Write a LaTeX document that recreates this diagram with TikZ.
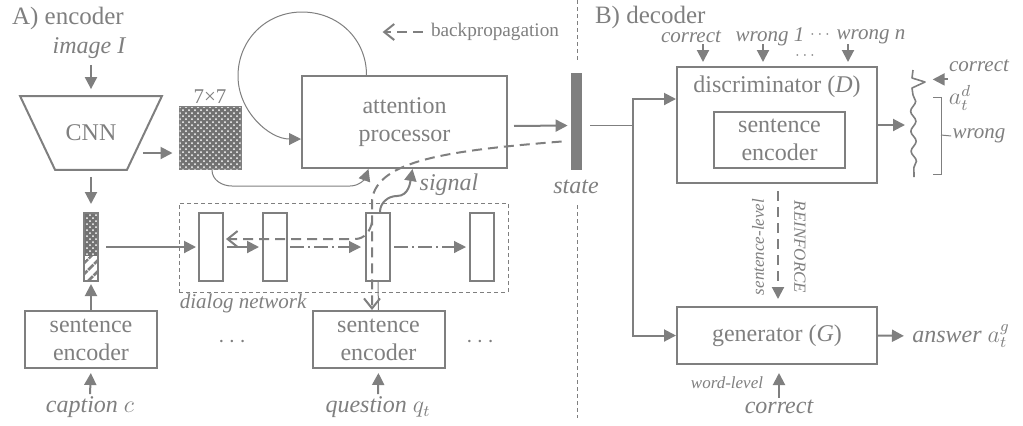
\documentclass[tikz,border=0pt]{standalone}
\usepackage{fontspec}
\setmainfont{Liberation Serif}
\usetikzlibrary{positioning,shapes.geometric,arrows.meta,patterns,patterns.meta,decorations.pathmorphing}
\definecolor{ink}{RGB}{127,127,127}

\begin{document}
\begin{tikzpicture}[x=0.5pt,y=-0.5pt,color=ink,
		box/.style={draw,line width=1pt,align=center,font=\fontsize{12}{14}\selectfont},
		cell/.style={draw,line width=1pt,minimum width=12pt,minimum height=34pt,inner sep=0pt},
		lab/.style={font=\fontsize{12}{14}\selectfont\itshape,inner sep=1pt},
		sml/.style={font=\fontsize{10.5}{12}\selectfont\itshape,inner sep=0.5pt},
		smalllab/.style={font=\fontsize{8.5}{10}\selectfont\itshape,inner sep=1pt},
		arr/.style={line width=1pt,-{Triangle[length=6pt,width=6pt]}},
		thinarr/.style={line width=0.5pt,-{Triangle[length=6pt,width=6pt]}},
		ddarr/.style={line width=0.6pt,dash pattern=on 7pt off 2pt on 1pt off 2pt,-{Triangle[length=6pt,width=6pt]}},
		bp/.style={line width=1pt,dash pattern=on 5pt off 3pt,-{Straight Barb[length=5pt,width=8pt]}},
		dotfill/.style={fill=ink!90!black,postaction={pattern=crosshatch dots,pattern color=white}}]
		\useasboundingbox (0,0) rectangle (1023,425);
		\node at (5,18) [anchor=west,font=\fontsize{12.5}{14}\selectfont] (ttlA) {A) encoder};
		\node at (89,48) [lab] (img) {image I};
		\node at (91,133) [minimum width=70.5pt,minimum height=36.5pt,font=\fontsize{12}{14}\selectfont] (cnn) {CNN};
		\draw[line width=1pt] (cnn.north west) -- (cnn.north east) -- ([xshift=-17.5pt]cnn.south east) -- ([xshift=17.5pt]cnn.south west) -- cycle;
		\node at (210,138) [draw,line width=1pt,dotfill,minimum width=30.5pt,minimum height=31pt,inner sep=0pt] (fmap) {};
		\node [above=0pt of fmap,font=\fontsize{10.5}{12}\selectfont,inner sep=1pt] (fsize) {7×7};
		\node at (404.5,122) [box,minimum width=102.5pt,minimum height=46pt] (att) {attention\\processor};
		\node at (576.5,121.5) [fill,minimum width=5.5pt,minimum height=48.5pt,inner sep=0pt] (state) {};
		\node at (576,187) [lab] (statelab) {state};
		\node at (495,32) [font=\fontsize{9.6}{11}\selectfont,inner sep=1pt] (bplab) {backpropagation};
		\node at (343.5,247.5) [draw,line width=0.5pt,dash pattern=on 2pt off 1.5pt,minimum width=164.5pt,minimum height=44.5pt] (dlg) {};
		\node [anchor=north west,sml] at (dlg.south west) (dlglab) {dialog network};
		\node at (91,247) [draw,line width=1pt,minimum width=7pt,minimum height=34pt,inner sep=0pt,
			path picture={
				\fill[ink!90!black,postaction={pattern=crosshatch dots,pattern color=white}] (path picture bounding box.north west) rectangle ([yshift=-4.5pt]path picture bounding box.east);
				\fill[pattern={Lines[angle=45,distance=4pt,line width=1.5pt]},pattern color=ink] ([yshift=-4.5pt]path picture bounding box.west) rectangle (path picture bounding box.south east);
			}] (cvec) {};
		\node at (211,247) [cell] (r1) {};
		\node at (275,247) [cell] (r2) {};
		\node at (378,247) [cell] (r3) {};
		\node at (482,247) [cell] (r4) {};
		\node at (91,339.5) [box,minimum width=66pt,minimum height=28.5pt] (senc1) {sentence\\encoder};
		\node at (378.5,339.5) [box,minimum width=66pt,minimum height=28.5pt] (senc2) {sentence\\encoder};
		\node at (232,342) [font=\fontsize{12}{14}\selectfont] (dots1) {$\cdots$};
		\node at (480,342) [font=\fontsize{12}{14}\selectfont] (dots2) {$\cdots$};
		\node at (90,407) [lab] (cap) {caption $c$};
		\node at (378,407) [lab] (qst) {question $q_t$};
		\node at (449,185) [lab] (sig) {signal};
		\draw[arr,shorten <=2pt,shorten >=3.5pt] (cnn.north |- img.south) -- (cnn.north);
		\draw[arr,shorten <=3.5pt,shorten >=4pt] (cnn.south) -- (cvec.north);
		\draw[arr,shorten >=3pt] ([xshift=-9.5pt,yshift=-10pt]cnn.east) -- ([yshift=-7.5pt]fmap.west);
		\draw[thinarr] ([xshift=1pt]fmap.south) to[out=-90,in=180] ++(20,16) -- ++(118,0) to[out=0,in=-110] ([xshift=-18pt]att.south);
		\coordinate (looptop) at (302,12);
		\coordinate (loopleft) at (238,76);
		\draw[thinarr] ([xshift=-19pt]att.north) .. controls +(0,-36) and +(36,0) .. (looptop) .. controls +(-36,0) and +(0,-36) .. (loopleft) .. controls +(0,35) and +(-32,0) .. ([yshift=-8.5pt]att.west);
		\draw[arr,shorten <=3pt,shorten >=1.5pt] ([yshift=-2pt]att.east) -- ([yshift=-2pt]state.west);
		\draw[bp] ([xshift=-3pt]bplab.west) -- ([xshift=-23pt]bplab.west);
		\draw[arr,shorten <=3.5pt,shorten >=1pt] (cvec.east) -- (r1.west);
		\draw[arr,shorten <=1.5pt,shorten >=1.5pt] (r1.east) -- (r2.west);
		\draw[ddarr,shorten <=1pt,shorten >=2pt] (r2.east) -- (r3.west);
		\draw[ddarr,shorten <=1.5pt,shorten >=1.5pt] (r3.east) -- (r4.west);
		\draw[line width=0.5pt] (senc2.north) -- (r3.south);
		\draw[arr,shorten >=1pt] (senc1.north) -- (cvec.south);
		\draw[arr,shorten >=2pt] (cap.north) -- (senc1.south);
		\draw[arr,shorten >=2pt] (qst.north) -- (senc2.south);
		\draw[arr] ([xshift=1pt]r3.north) to[out=90,in=180] ++(17,-16) to[out=0,in=-100] ([xshift=4pt]att.south);
		\coordinate (bpv) at (372,200);
		\draw[bp] ([xshift=-4.5pt,yshift=-10pt]state.west) .. controls +(-112,9) and +(5,-40) .. (bpv) -- ([xshift=-3.25pt]senc2.north);
		\draw[bp] ([yshift=-11pt]bpv) to[out=-100,in=0] ++(-17,17) -- ([xshift=1pt,yshift=4pt]r1.east);
		\draw[line width=0.5pt,dash pattern=on 2pt off 1.5pt] (577,0) -- (577,63);
		\draw[line width=0.5pt,dash pattern=on 2pt off 1.5pt] (577,205) -- (577,418);
		\node at (588,17) [anchor=west,font=\fontsize{12.5}{14}\selectfont] (ttlB) {B) decoder};
		\node at (777,125) [draw,line width=1pt,minimum width=100pt,minimum height=58pt] (disc) {};
		\node at (777,87) [font=\fontsize{12}{14}\selectfont] (disclab) {discriminator (\textit{D})};
		\node at (779.5,140) [box,minimum width=65.5pt,minimum height=28pt] (dsenc) {sentence\\encoder};
		\node at (777,335.5) [box,minimum width=100pt,minimum height=28.5pt] (gen) {generator (\textit{G})};
		\coordinate (jn) at (633,125);
		\draw[line width=0.5pt,shorten <=4pt] (state.east |- jn) -- (jn);
		\draw[arr] (jn) |- ([yshift=13pt]disc.west);
		\draw[arr] (jn) |- (gen.west);
		\node at (691,37) [sml] (c0) {correct};
		\node at (770,37) [sml] (w1) {wrong 1};
		\node at (820,35) [font=\fontsize{8}{9}\selectfont,inner sep=0pt] (wd) {$\cdots$};
		\node at (871,37) [sml] (wn) {wrong n};
		\node at (805,56) [font=\fontsize{8}{9}\selectfont,inner sep=0pt] (wd2) {$\cdots$};
		\draw[arr] ([xshift=-37pt,yshift=11pt]disc.north) -- ([xshift=-37pt,yshift=2pt]disc.north);
		\draw[arr] ([xshift=-7pt,yshift=11pt]disc.north) -- ([xshift=-7pt,yshift=2pt]disc.north);
		\draw[arr] ([xshift=35.5pt,yshift=11pt]disc.north) -- ([xshift=35.5pt,yshift=2pt]disc.north);
		\coordinate (wv) at (913,125);
		\draw[arr] (disc.east) -- ([xshift=-4pt]wv);
		\draw[line width=0.8pt,line join=round] (913,70) -- (912,78) -- (925,82) -- (912,88) -- (913,95);
		\draw[line width=0.8pt,decorate,decoration={snake,amplitude=1.3pt,segment length=10pt}] (913,95) -- (914,177);
		\node at (979,66) [sml] (rc) {correct};
		\draw[arr] ([yshift=-3pt]rc.south west) -- ++(-15,0);
		\node at (960,98) [font=\fontsize{12}{14}\selectfont,inner sep=0pt] (ad) {$a^{d}_{t}$};
		\draw[line width=0.5pt] (933,97) -- (941,97) -- (941,174) -- (933,174);
		\node at (979,136) [sml] (wr) {wrong};
		\draw[line width=0.5pt] (941,135) -- (wr.west);
		\draw[line width=1pt,dash pattern=on 5pt off 3pt,-{Triangle[length=6pt,width=6pt]},shorten <=3.5pt,shorten >=3.5pt] ([xshift=0.5pt]disc.south) -- ([xshift=0.5pt]gen.north);
		\node at (758,247) [smalllab,rotate=90] (sl) {sentence-level};
		\node at (800,247) [smalllab,rotate=-90] (rf) {REINFORCE};
		\node at (961,336) [lab] (ans) {answer $a_t^g$};
		\draw[arr,shorten >=3pt] (gen.east) -- (ans.west);
		\node at (779,407) [lab] (bc) {correct};
		\draw[arr,shorten >=4pt] (bc.north) -- (bc.north |- gen.south);
		\node at (727,383) [smalllab] (wl) {word-level};
	\end{tikzpicture}
\end{document}
